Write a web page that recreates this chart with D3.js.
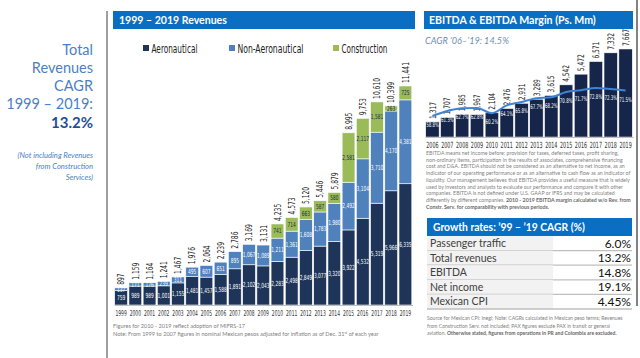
<!DOCTYPE html>
<html><head><meta charset="utf-8">
<script src="https://cdn.jsdelivr.net/npm/d3@7"></script>
<style>body{margin:0;background:#fff;} svg{display:block}</style>
</head><body>
<svg id="c" width="640" height="358"></svg>
<script>
// ---------- DATA ----------
const years = [1999,2000,2001,2002,2003,2004,2005,2006,2007,2008,2009,2010,2011,2012,2013,2014,2015,2016,2017,2018,2019];
const aeronautical = [759,989,989,1001,1155,1481,1457,1588,1891,2102,2043,2283,2498,2849,3077,3320,3922,4532,5319,5966,6335];
const nonAeronautical = [137,171,176,239,311,495,607,651,895,1067,1089,1211,1361,1608,1783,1980,2492,3104,3710,4170,4381];
const construction = [0,0,0,0,0,0,0,0,0,0,0,741,714,663,587,580,2581,2117,1581,263,725];
const totals = [897,1159,1164,1241,1467,1976,2064,2239,2786,3169,3131,4235,4573,5120,5446,5879,8995,9753,10610,10399,11441];
const seriesNames = ["Aeronautical","Non-Aeronautical","Construction"];
const seriesColors = ["#1e3559","#4f81bd","#9bbb59"];

const ebitdaYears = [2006,2007,2008,2009,2010,2011,2012,2013,2014,2015,2016,2017,2018,2019];
const ebitda = [1317,1707,1985,1967,2104,2476,2931,3289,3615,4542,5472,6571,7332,7667];
const ebitdaMargin = [58.8,61.3,62.7,62.8,60.2,64.1,65.8,67.7,68.2,70.8,71.7,72.8,72.3,71.5];

const growthLabels = ["Passenger traffic","Total revenues","EBITDA","Net income","Mexican CPI"];
const growthValues = ["6.0%","13.2%","14.8%","19.1%","4.45%"];

// ---------- HELPERS ----------
const svg = d3.select("#c");
const NARROW = "'Liberation Sans Narrow','Arial Narrow','DejaVu Sans Condensed',sans-serif";
const BODY = "Lato,'Open Sans',sans-serif";
const fmt = d3.format(",");
const BLUE = "#0a6fc2";
function fit(sel, target){ // scale font-size so width equals target
  const n = sel.node(); const w = n.getComputedTextLength();
  const fs = parseFloat(sel.attr("font-size"));
  const nf = fs*target/w; sel.attr("font-size", nf); return nf;
}
// horizontally condense texts (by transform) so that the reference node gets the target width
function condense(nodes, refNode, target){
  const k = target / refNode.getComputedTextLength();
  nodes.forEach(n=>{
    const xx = +n.getAttribute("x")||0, yy = +n.getAttribute("y")||0;
    const tr = n.getAttribute("transform")||"";
    n.setAttribute("x",0); n.setAttribute("y",0);
    n.setAttribute("transform", `${tr} translate(${xx},${yy}) scale(${k},1)`);
  });
}

// ---------- LEFT TEXT ----------
const leftLines = ["Total","Revenues","CAGR","1999 – 2019:"];
const leftY = [55,73,91,109];
leftLines.forEach((t,i)=>svg.append("text").attr("x",93).attr("y",leftY[i]).attr("text-anchor","end")
  .attr("font-family",BODY).attr("font-size",14.5).attr("fill","#4a80c4").text(t));
svg.append("text").attr("x",93).attr("y",128).attr("text-anchor","end").attr("font-family",BODY)
  .attr("font-size",15).attr("font-weight","bold").attr("fill","#1f4f96").text("13.2%");
["(Not including Revenues","from Construction","Services)"].forEach((t,i)=>svg.append("text")
  .attr("x",93).attr("y",158+i*11).attr("text-anchor","end").attr("font-family",BODY)
  .attr("font-style","italic").attr("font-size",7.6).attr("fill","#4a80c4").text(t));
svg.append("line").attr("x1",107).attr("x2",107).attr("y1",11).attr("y2",358).attr("stroke","#7f7f7f").attr("stroke-width",1.5);
svg.append("line").attr("x1",637).attr("x2",637).attr("y1",0).attr("y2",306).attr("stroke","#595959").attr("stroke-width",1.5);

// ---------- REVENUES CHART ----------
svg.append("rect").attr("x",113).attr("y",11).attr("width",302).attr("height",18).attr("fill",BLUE);
fit(svg.append("text").attr("x",119).attr("y",24).attr("font-family",BODY).attr("font-weight","bold")
  .attr("font-size",11).attr("fill","#fff").text("1999 – 2019 Revenues"),108);

const legX = [143,229,333], legW = [46,66,46];
seriesNames.forEach((s,i)=>{
  svg.append("rect").attr("x",legX[i]).attr("y",45).attr("width",6).attr("height",6).attr("fill",seriesColors[i]);
  const t = svg.append("text").attr("x",legX[i]+8.5).attr("y",52.5).attr("font-family",NARROW).attr("font-size",12)
    .attr("fill","#222").text(s);
  condense([t.node()], t.node(), legW[i]);
});

const x = d3.scaleBand().domain(years).range([114,412.5]).paddingInner(0.1).paddingOuter(0.05);
const y = d3.scaleLinear().domain([0,d3.max(totals)]).range([305,86]);
const rows = years.map((yr,i)=>({year:yr,a:aeronautical[i],n:nonAeronautical[i],c:construction[i]}));
const stack = d3.stack().keys(["a","n","c"])(rows);
const gBars = svg.append("g");
stack.forEach((ser,si)=>{
  gBars.selectAll(null).data(ser.filter(d=>d[1]-d[0]>0)).enter().append("rect")
    .attr("x",d=>x(d.data.year)).attr("width",x.bandwidth())
    .attr("y",d=>y(d[1])).attr("height",d=>y(d[0])-y(d[1]))
    .attr("fill",seriesColors[si]).attr("stroke","#fff").attr("stroke-width",0.6);
});
const segLabels = [];
stack.forEach((ser,si)=>{
  const s = gBars.selectAll(null).data(ser.filter(d=>d[1]-d[0]>0)).enter().append("text")
    .attr("x",d=>x(d.data.year)+x.bandwidth()/2).attr("y",d=>(y(d[0])+y(d[1]))/2+2.4)
    .attr("text-anchor","middle").attr("font-family",NARROW).attr("font-size",7)
    .attr("fill",si===2?"#1e2a3a":"#fff").text(d=>fmt(d[1]-d[0]));
  segLabels.push(...s.nodes());
});
condense(segLabels, segLabels.find(n=>n.textContent==="2,498"), 12.4);
const totLab = gBars.selectAll(null).data(years).enter().append("text")
  .attr("transform",(d,i)=>`translate(${x(d)+x.bandwidth()/2+3.3},${y(totals[i])-3}) rotate(-90)`)
  .attr("font-family",NARROW).attr("font-size",9.5).attr("fill","#222").text((d,i)=>fmt(totals[i]));
condense(totLab.nodes(), totLab.nodes()[20], 21);
const ax = svg.append("g").attr("transform","translate(0,305)").call(d3.axisBottom(x).tickSize(0).tickPadding(5));
ax.select(".domain").attr("stroke","#bfbfbf");
ax.selectAll("text").attr("font-family",NARROW).attr("font-size",8).attr("fill","#333");
condense(ax.selectAll("text").nodes(), ax.select("text").node(), 11.3);

svg.append("text").attr("x",113).attr("y",328).attr("font-family",BODY).attr("font-size",5.6).attr("fill","#808080")
  .text("Figures for 2010 - 2019 reflect adoption of MIFRS-17");
const fn2 = svg.append("text").attr("x",113).attr("y",336).attr("font-family",BODY).attr("font-size",5.6).attr("fill","#808080");
fn2.append("tspan").text("Note: From 1999 to 2007 figures in nominal Mexican pesos adjusted for inflation as of Dec. 31");
fn2.append("tspan").attr("dy",-2).attr("font-size",3.6).text("st");
fn2.append("tspan").attr("dy",2).text(" of each year");

// ---------- EBITDA CHART ----------
svg.append("rect").attr("x",424).attr("y",11).attr("width",209).attr("height",18).attr("fill",BLUE);
fit(svg.append("text").attr("x",429).attr("y",24).attr("font-family",BODY).attr("font-weight","bold")
  .attr("font-size",11).attr("fill","#fff").text("EBITDA & EBITDA Margin (Ps. Mm)"),167);
fit(svg.append("text").attr("x",425).attr("y",44).attr("font-family",BODY).attr("font-style","italic")
  .attr("font-size",10).attr("fill","#6f8db5").text("CAGR ’06–’19: 14.5%"),84);

const x2 = d3.scaleBand().domain(ebitdaYears).range([425,633]).paddingInner(0.1).paddingOuter(0.05);
const y2 = d3.scaleLinear().domain([0,d3.max(ebitda)]).range([137,49]);
const m2 = d3.scaleLinear().domain([0,100]).range([233.6,33.6]);
const gE = svg.append("g");
gE.selectAll(null).data(ebitdaYears).enter().append("rect")
  .attr("x",d=>x2(d)).attr("width",x2.bandwidth()).attr("y",(d,i)=>y2(ebitda[i]))
  .attr("height",(d,i)=>y2(0)-y2(ebitda[i])).attr("fill","#15264a").attr("stroke","#fff").attr("stroke-width",0.5);
const eTot = gE.selectAll(null).data(ebitdaYears).enter().append("text")
  .attr("transform",(d,i)=>`translate(${x2(d)+x2.bandwidth()/2+3.1},${y2(ebitda[i])-3}) rotate(-90)`)
  .attr("font-family",NARROW).attr("font-size",9).attr("fill","#222").text((d,i)=>fmt(ebitda[i]));
condense(eTot.nodes(), eTot.nodes()[0], 17);
gE.append("path").datum(ebitdaMargin)
  .attr("d",d3.line().x((d,i)=>x2(ebitdaYears[i])+x2.bandwidth()/2).y(d=>m2(d)).curve(d3.curveMonotoneX))
  .attr("fill","none").attr("stroke","#3f83d4").attr("stroke-width",2);
const mLab = gE.selectAll(null).data(ebitdaMargin).enter().append("text")
  .attr("x",(d,i)=>x2(ebitdaYears[i])+x2.bandwidth()/2).attr("y",d=>m2(d)+11)
  .attr("text-anchor","middle").attr("font-family",NARROW).attr("font-size",6.5).attr("fill","#fff")
  .text(d=>d.toFixed(1)+"%");
condense(mLab.nodes(), mLab.nodes()[0], 12.6);
const ax2 = svg.append("g").attr("transform","translate(0,137)").call(d3.axisBottom(x2).tickSize(0).tickPadding(5));
ax2.select(".domain").attr("stroke","#bfbfbf");
ax2.selectAll("text").attr("font-family",NARROW).attr("font-size",8.5).attr("fill","#333");
condense(ax2.selectAll("text").nodes(), ax2.select("text").node(), 12.3);

const para = [
 ["EBITDA means net income before: provision for taxes, deferred taxes, profit sharing,",""],
 ["non-ordinary items, participation in the results of associates, comprehensive financing",""],
 ["cost and D&A. EBITDA should not be considered as an alternative to net income, as an",""],
 ["indicator of our operating performance or as an alternative to cash flow as an indicator of",""],
 ["liquidity. Our management believes that EBITDA provides a useful measure that is widely",""],
 ["used by investors and analysts to evaluate our performance and compare it with other",""],
 ["companies. EBITDA is not defined under U.S. GAAP or IFRS and may be calculated",""],
 ["differently by different companies. ","2010 - 2019 EBITDA margin calculated w/o Rev. from"],
 ["","Constr. Serv. for comparability with previous periods."]
];
const gP = svg.append("g").attr("font-family",BODY).attr("fill","#7f7f7f");
const pTexts = para.map((p,i)=>{
  const t = gP.append("text").attr("x",426).attr("y",155+i*6.7).attr("font-size",6);
  if(p[0]) t.append("tspan").text(p[0]);
  if(p[1]) t.append("tspan").attr("font-weight","bold").attr("fill","#6a6a6a").text(p[1]);
  return t;
});
const pfs = fit(pTexts[3],205);
pTexts.forEach(t=>t.attr("font-size",pfs));

// ---------- GROWTH TABLE ----------
svg.append("rect").attr("x",427).attr("y",218).attr("width",205).attr("height",18).attr("fill",BLUE);
fit(svg.append("text").attr("x",433).attr("y",231).attr("font-family",BODY).attr("font-weight","bold")
  .attr("font-size",11).attr("fill","#fff").text("Growth rates: ’99 – ’19 CAGR (%)"),152);
const rowH = 14.6, row0 = 236;
growthLabels.forEach((l,i)=>{
  const yy = row0+i*rowH;
  svg.append("rect").attr("x",427).attr("y",yy).attr("width",126).attr("height",rowH).attr("fill","#f2f2f2");
  svg.append("line").attr("x1",427).attr("x2",632).attr("y1",yy+rowH).attr("y2",yy+rowH).attr("stroke","#bfbfbf").attr("stroke-width",1.3);
  svg.append("text").attr("x",430).attr("y",yy+rowH/2+3.6).attr("font-family",BODY).attr("font-size",10.5)
    .attr("fill","#404040").text(l);
  svg.append("text").attr("x",631).attr("y",yy+rowH/2+4.2).attr("text-anchor","end").attr("font-family",BODY)
    .attr("font-size",12).attr("fill","#111").text(growthValues[i]);
});
const notes = [
 ["Source for Mexican CPI: Inegi; Note: CAGRs calculated in Mexican peso terms; Revenues",""],
 ["from Construction Serv. not included; PAX figures exclude PAX in transit or general",""],
 ["aviation. ","Otherwise stated, figures from operations in PR and Colombia are excluded."]
];
const nT = notes.map((p,i)=>{
  const t = svg.append("text").attr("x",427).attr("y",320+i*7.5).attr("font-family",BODY).attr("font-size",6).attr("fill","#808080");
  if(p[0]) t.append("tspan").text(p[0]);
  if(p[1]) t.append("tspan").attr("font-weight","bold").attr("fill","#666").text(p[1]);
  return t;
});
const nfs = fit(nT[0],196);
nT.forEach(t=>t.attr("font-size",nfs));
</script>
</body></html>
